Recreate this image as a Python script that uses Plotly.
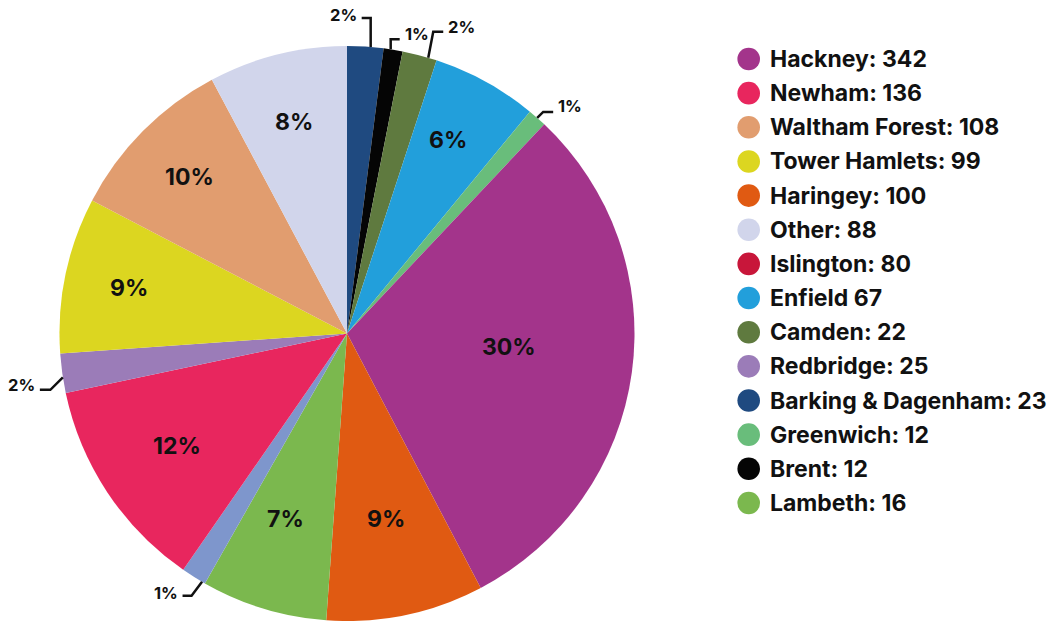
import math
import plotly.graph_objects as go

# ---------------- data ----------------
slice_labels = ["Barking & Dagenham", "Brent", "Camden", "Enfield", "Greenwich",
                "Hackney", "Haringey", "Islington", "Lambeth", "Newham",
                "Redbridge", "Tower Hamlets", "Waltham Forest", "Other"]
slice_values = [23, 12, 22, 67, 12, 342, 100, 80, 16, 136, 25, 99, 108, 88]

legend_labels = ["Hackney", "Newham", "Waltham Forest", "Tower Hamlets", "Haringey",
                 "Other", "Islington", "Enfield", "Camden", "Redbridge",
                 "Barking & Dagenham", "Greenwich", "Brent", "Lambeth"]
legend_values = [342, 136, 108, 99, 100, 88, 80, 67, 22, 25, 23, 12, 12, 16]
legend_separators = [": ", ": ", ": ", ": ", ": ", ": ", ": ", " ", ": ", ": ",
                     ": ", ": ", ": ", ": "]

# ---------------- styles ----------------
slice_colors = {
    "Barking & Dagenham": "#1f4a80", "Brent": "#050505", "Camden": "#5f7a3f",
    "Enfield": "#229fdb", "Greenwich": "#69bd7b", "Hackney": "#a3348b",
    "Haringey": "#e05a12", "Islington": "#7bb84e", "Lambeth": "#7e96cc",
    "Newham": "#e8265e", "Redbridge": "#9b7cb8", "Tower Hamlets": "#dcd620",
    "Waltham Forest": "#e19d6f", "Other": "#d1d5eb",
}
legend_colors = {
    "Hackney": "#a3348b", "Newham": "#e8265e", "Waltham Forest": "#e19d6f",
    "Tower Hamlets": "#dcd620", "Haringey": "#e05a12", "Other": "#d1d5eb",
    "Islington": "#c8163a", "Enfield": "#229fdb", "Camden": "#5f7a3f",
    "Redbridge": "#9b7cb8", "Barking & Dagenham": "#1f4a80",
    "Greenwich": "#69bd7b", "Brent": "#050505", "Lambeth": "#7bb84e",
}
# inside label placement: (fraction of radius, angle nudge in degrees)
inside_place = {
    "Hackney": (0.565, -2.9), "Newham": (0.71, 0), "Other": (0.758, 0),
    "Waltham Forest": (0.771, 0), "Tower Hamlets": (0.776, 0),
    "Enfield": (0.76, -1.2), "Haringey": (0.66, 0), "Islington": (0.68, 1.5),
}
# outside label connectors: angle nudge (deg), elbow offset (dx, dy), horizontal run, text lift (px)
connector_style = {
    "Barking & Dagenham": (1.06, 0, -29, -9, 2.5),
    "Brent": (-0.5, 0, -10, 9, 5),
    "Camden": (1.76, 5, -26, 10, 5),
    "Greenwich": (0.0, 6, -6, 10, 5.5),
    "Redbridge": (-0.8, -12.5, 12.5, -10.5, 5),
    "Lambeth": (-1.9, -10.5, 14, -9, 3),
}

FONT = "Inter"
W, H = 1052, 621
R = 287.5
CX, CY = 347, H - R     # pie centre in pixels

total = sum(slice_values)
pcts = [v / total for v in slice_values]
small = [p < 0.03 for p in pcts]

def to_paper(px, py):
    return px / W, 1 - py / H

fig = go.Figure()
fig.add_trace(go.Pie(
    labels=slice_labels,
    values=slice_values,
    sort=False,
    direction="clockwise",
    rotation=0,
    marker=dict(colors=[slice_colors[l] for l in slice_labels], line=dict(width=0)),
    textinfo="none",
    hoverinfo="skip",
    showlegend=False,
    automargin=False,
    domain=dict(x=[0, 2 * CX / W], y=[0, 2 * R / H]),
))

shapes = []
annotations = []

cum = 0
for lab, val, p, s in zip(slice_labels, slice_values, pcts, small):
    mid = (cum + val / 2) / total * 2 * math.pi
    cum += val
    txt = f"{round(p * 100)}%"
    if not s:
        frac, nud = inside_place[lab]
        ang = mid + math.radians(nud)
        rf = frac * R
        tx, ty = to_paper(CX + rf * math.sin(ang), CY - rf * math.cos(ang))
        annotations.append(dict(
            x=tx, y=ty, xref="paper", yref="paper", text=txt, showarrow=False,
            xanchor="center", yanchor="middle",
            font=dict(family=FONT, size=23, color="#111111", weight=700),
        ))
        continue
    nudge, dx, dy, hrun, lift = connector_style[lab]
    ang = mid + math.radians(nudge)
    x0 = CX + R * math.sin(ang)
    y0 = CY - R * math.cos(ang)
    x1, y1 = x0 + dx, y0 + dy
    x2, y2 = x1 + hrun, y1
    a0, b0 = to_paper(x0, y0)
    a1, b1 = to_paper(x1, y1)
    a2, b2 = to_paper(x2, y2)
    shapes.append(dict(type="path", xref="paper", yref="paper",
                       path=f"M {a0},{b0} L {a1},{b1} L {a2},{b2}",
                       line=dict(color="#111111", width=2.5)))
    annotations.append(dict(
        x=a2, y=b2, xref="paper", yref="paper", text=txt, showarrow=False,
        xanchor="left" if hrun > 0 else "right", yanchor="middle",
        xshift=3 if hrun > 0 else -3, yshift=lift,
        font=dict(family=FONT, size=16.5, color="#111111", weight=700),
    ))

# custom legend with circular markers
LEG_X, LEG_Y0, LEG_DY, LEG_R = 748.7, 59, 34.15, 11.3
for i, (lab, val, sep) in enumerate(zip(legend_labels, legend_values, legend_separators)):
    cy = LEG_Y0 + i * LEG_DY
    xa, ya = to_paper(LEG_X - LEG_R, cy + LEG_R)
    xb, yb = to_paper(LEG_X + LEG_R, cy - LEG_R)
    shapes.append(dict(type="circle", xref="paper", yref="paper",
                       x0=xa, x1=xb, y0=ya, y1=yb,
                       fillcolor=legend_colors[lab], line=dict(width=0)))
    tx, ty = to_paper(768, cy)
    annotations.append(dict(
        x=tx, y=ty, xref="paper", yref="paper",
        text=f"{lab}{sep}{val}", showarrow=False,
        xanchor="left", yanchor="middle",
        font=dict(family=FONT, size=23, color="#111111", weight=700),
    ))

fig.update_layout(
    width=W, height=H,
    margin=dict(l=0, r=0, t=0, b=0, pad=0),
    paper_bgcolor="white", plot_bgcolor="white",
    shapes=shapes, annotations=annotations,
    font=dict(family=FONT, color="#111111"),
)

fig.write_html("out.html", config={"displayModeBar": False},
               post_script="document.body.style.margin='0px';")
